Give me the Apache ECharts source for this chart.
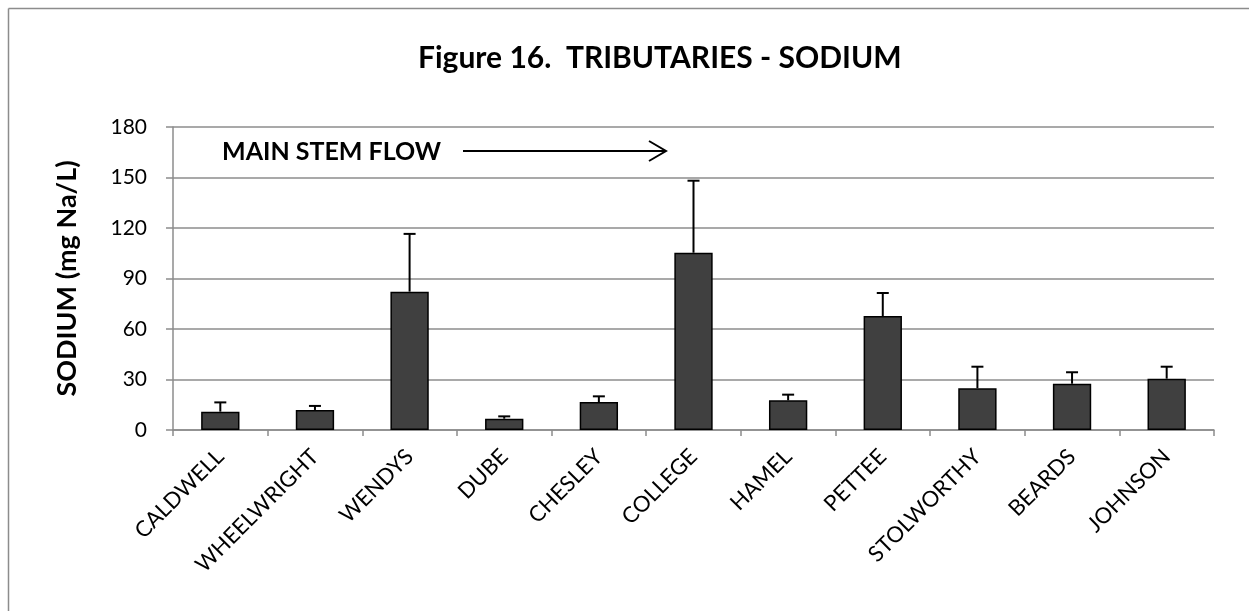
<!DOCTYPE html>
<head>
    <meta charset="utf-8">
    <title>TRIBUTARIES - SODIUM</title>
    <script src="https://cdn.jsdelivr.net/npm/echarts@6/dist/echarts.min.js"></script>
    <style>
      html,body{margin:0;padding:0;background:#fff;}
      #chart{width:1249px;height:611px;}
    </style>
</head>
<body>
<div id="chart"></div>
<script>
    // data
    var sites = ['CALDWELL', 'WHEELWRIGHT', 'WENDYS', 'DUBE', 'CHESLEY', 'COLLEGE', 'HAMEL', 'PETTEE', 'STOLWORTHY', 'BEARDS', 'JOHNSON'];
    var sodium = [10.9, 11.9, 82.2, 6.7, 16.6, 105.3, 17.6, 67.7, 24.8, 27.5, 30.5];
    var sodiumUpper = [16.4, 14.3, 116.5, 8.1, 20.0, 148.1, 21.0, 81.4, 37.6, 34.3, 37.6];
    var yTicks = [0, 30, 60, 90, 120, 150, 180];

    var font = 'Lato, "Open Sans", sans-serif';
    var gray = '#8c8c8c';

    var errData = [];
    for (var i = 0; i < sites.length; i++) {
        errData.push([i, sodium[i], sodiumUpper[i]]);
    }

    var option = {
        animation: false,
        title: {
            text: 'Figure 16.  TRIBUTARIES - SODIUM',
            left: 413, top: 38,
            textStyle: { fontFamily: font, fontWeight: 'bold', fontSize: 30, color: '#000' }
        },
        grid: { left: 173, right: 35, top: 127, bottom: 181 },
        xAxis: {
            type: 'category',
            data: sites,
            axisLine: { lineStyle: { color: gray, width: 1.5 } },
            axisTick: { show: true, alignWithLabel: false, length: 6, lineStyle: { color: gray, width: 1.5 } },
            axisLabel: { rotate: 45, interval: 0, margin: 23, fontFamily: font, fontSize: 22, color: '#000' }
        },
        yAxis: {
            type: 'value',
            min: yTicks[0], max: yTicks[yTicks.length - 1], interval: 30,
            name: 'SODIUM (mg Na/L)',
            nameLocation: 'middle',
            nameGap: 92,
            nameTextStyle: { fontFamily: font, fontWeight: 'bold', fontSize: 27, color: '#000' },
            axisLine: { show: true, lineStyle: { color: gray, width: 1.5 } },
            axisTick: { show: true, length: 7, lineStyle: { color: gray, width: 1.5 } },
            axisLabel: { margin: 26, fontFamily: font, fontSize: 21, color: '#000' },
            splitLine: { show: true, lineStyle: { color: gray, width: 1.5 } }
        },
        series: [{
            type: 'bar',
            data: sodium,
            barWidth: '40.5%',
            itemStyle: { color: '#404040', borderColor: '#000', borderWidth: 1.5 }
        }, {
            type: 'custom',
            data: errData,
            z: 3,
            renderItem: function (params, api) {
                var x = api.value(0);
                var lo = api.coord([x, api.value(1)]);
                var hi = api.coord([x, api.value(2)]);
                var w = 6;
                var st = { stroke: '#000', lineWidth: 2 };
                return {
                    type: 'group',
                    children: [
                        { type: 'line', shape: { x1: lo[0], y1: lo[1], x2: hi[0], y2: hi[1] }, style: st },
                        { type: 'line', shape: { x1: hi[0] - w, y1: hi[1], x2: hi[0] + w, y2: hi[1] }, style: st }
                    ]
                };
            }
        }],
        graphic: [
            // outer frame (top and left edges visible)
            { type: 'line', shape: { x1: 8.5, y1: 8.5, x2: 1249, y2: 8.5 }, style: { stroke: gray, lineWidth: 1.5 } },
            { type: 'line', shape: { x1: 8.5, y1: 8.5, x2: 8.5, y2: 611 }, style: { stroke: gray, lineWidth: 1.5 } },
            // main stem flow annotation
            { type: 'text', left: 222, top: 139, style: { text: 'MAIN STEM FLOW', fontFamily: font, fontWeight: 'bold', fontSize: 25, fill: '#000' } },
            { type: 'line', shape: { x1: 463, y1: 151, x2: 666, y2: 151 }, style: { stroke: '#000', lineWidth: 2 } },
            { type: 'polyline', shape: { points: [[649, 141], [666, 151], [649, 161]] }, style: { stroke: '#000', lineWidth: 2, fill: null } }
        ]
    };

    var myChart = echarts.init(document.getElementById('chart'));
    myChart.setOption(option);
</script>
</body>
